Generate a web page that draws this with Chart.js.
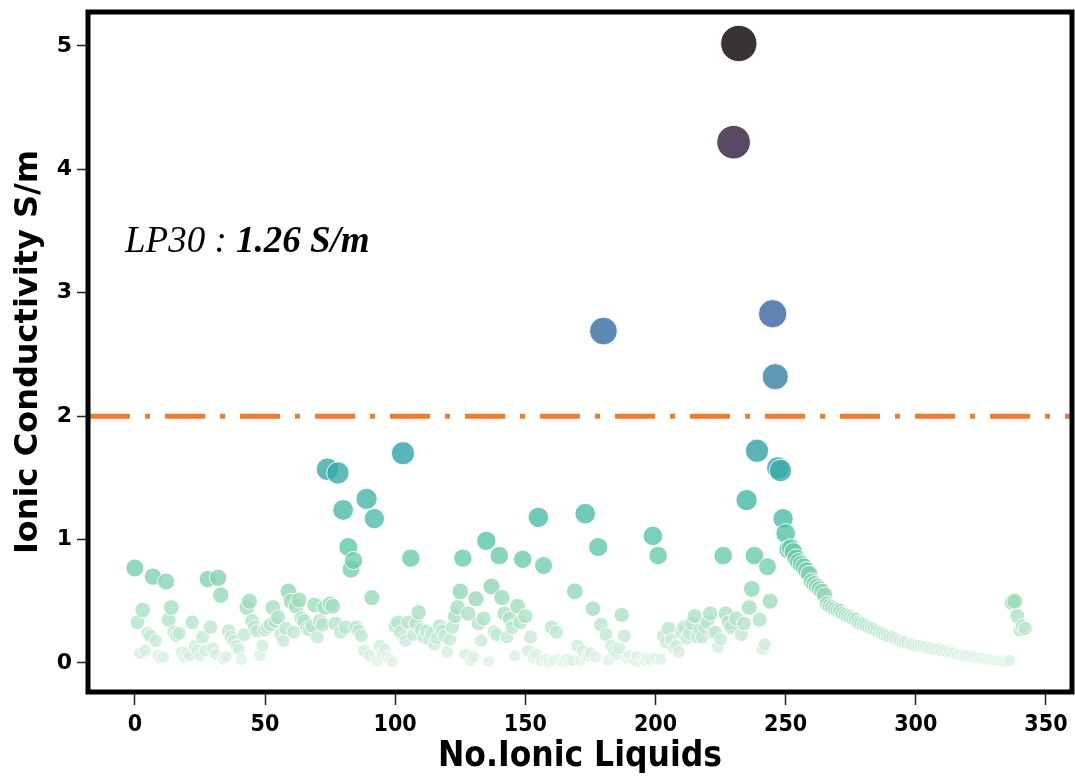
<!DOCTYPE html>
<html>
<head>
<meta charset="utf-8">
<script src="https://cdn.jsdelivr.net/npm/chart.js@4.4.0/dist/chart.umd.min.js"></script>
<style>
  html, body { margin: 0; background: #fff; }
</style>
</head>
<body>
<canvas id="chart" width="1075" height="778"></canvas>
<script>
// Ionic conductivity (S/m) of each ionic liquid, x = index in the list
const conductivity = [
  0.77, 0.33, 0.08, 0.43, 0.10, 0.24, 0.22, 0.70, 0.18, 0.06,
  0.04, 0.05, 0.66, 0.35, 0.45, 0.25, 0.22, 0.24, 0.09, 0.05,
  0.08, 0.06, 0.33, 0.14, 0.10, 0.06, 0.21, 0.10, 0.68, 0.29,
  0.12, 0.07, 0.69, 0.55, 0.03, 0.05, 0.26, 0.21, 0.18, 0.14,
  0.11, 0.03, 0.23, 0.45, 0.50, 0.34, 0.29, 0.26, 0.06, 0.14,
  0.27, 0.29, 0.31, 0.45, 0.34, 0.37, 0.23, 0.18, 0.28, 0.58,
  0.50, 0.25, 0.46, 0.51, 0.36, 0.34, 0.28, 0.27, 0.30, 0.47,
  0.21, 0.34, 0.31, 0.45, 1.57, 0.48, 0.46, 0.32, 1.54, 0.25,
  1.24, 0.29, 0.94, 0.76, 0.83, 0.29, 0.26, 0.22, 0.10, 1.33,
  0.06, 0.53, 1.17, 0.02, 0.14, 0.08, 0.11, 0.05, 0.03, 0.01,
  0.30, 0.33, 0.25, 1.70, 0.18, 0.33, 0.85, 0.23, 0.32, 0.41,
  0.27, 0.21, 0.26, 0.19, 0.24, 0.15, 0.20, 0.30, 0.26, 0.22,
  0.09, 0.19, 0.29, 0.38, 0.45, 0.58, 0.85, 0.07, 0.40, 0.02,
  0.05, 0.52, 0.32, 0.18, 0.36, 0.99, 0.01, 0.62, 0.25, 0.23,
  0.87, 0.53, 0.40, 0.21, 0.36, 0.29, 0.06, 0.46, 0.33, 0.84,
  0.38, 0.10, 0.21, 0.04, 0.07, 1.18, 0.02, 0.79, 0.03, 0.01,
  0.29, 0.02, 0.25, 0.03, 0.01, 0.02, 0.03, 0.01, 0.02, 0.58,
  0.14, 0.02, 0.10, 1.21, 0.06, 0.08, 0.44, 0.05, 0.94, 0.31,
  2.69, 0.23, 0.02, 0.14, 0.10, 0.07, 0.12, 0.39, 0.22, 0.04,
  0.06, 0.03, 0.02, 0.05, 0.01, 0.03, 0.02, 0.04, 0.03, 1.03,
  0.04, 0.87, 0.03, 0.22, 0.17, 0.28, 0.19, 0.12, 0.14, 0.09,
  0.25, 0.29, 0.20, 0.24, 0.32, 0.38, 0.21, 0.27, 0.21, 0.29,
  0.33, 0.40, 0.25, 0.25, 0.13, 0.19, 0.87, 0.40, 0.33, 0.29,
  4.22, 0.36, 5.02, 0.23, 0.32, 1.32, 0.45, 0.60, 0.87, 1.72,
  0.35, 0.11, 0.15, 0.78, 0.50, 2.83, 2.32, 1.58, 1.56, 1.17,
  1.05, 0.92, 0.93, 0.90, 0.85, 0.82, 0.80, 0.78, 0.75, 0.72,
  0.66, 0.64, 0.62, 0.60, 0.58, 0.55, 0.48, 0.46, 0.45, 0.44,
  0.43, 0.42, 0.40, 0.39, 0.38, 0.37, 0.36, 0.35, 0.33, 0.32,
  0.31, 0.30, 0.29, 0.28, 0.27, 0.26, 0.25, 0.24, 0.23, 0.22,
  0.21, 0.21, 0.20, 0.19, 0.18, 0.17, 0.17, 0.16, 0.15, 0.15,
  0.14, 0.14, 0.14, 0.13, 0.13, 0.12, 0.12, 0.11, 0.11, 0.11,
  0.10, 0.10, 0.09, 0.09, 0.08, 0.08, 0.07, 0.07, 0.06, 0.06,
  0.06, 0.05, 0.05, 0.05, 0.04, 0.04, 0.04, 0.03, 0.03, 0.03,
  0.02, 0.02, 0.02, 0.02, 0.01, 0.01, 0.02, 0.49, 0.50, 0.38,
  0.27, 0.30, 0.28
];

const xTicks = [0, 50, 100, 150, 200, 250, 300, 350];
const yTicks = [0, 1, 2, 3, 4, 5];
const threshold = 2;
const lp30Label = 'LP30 : ';
const lp30Value = '1.26 S/m';

// mako_r style colour ramp keyed by conductivity
const colourStops = [
  [0.0, [224, 243, 229]],
  [0.5, [156, 220, 186]],
  [1.0, [87, 197, 167]],
  [1.7, [49, 162, 166]],
  [2.8, [55, 102, 162]],
  [4.2, [49, 29, 64]],
  [5.0, [9, 0, 1]]
];

function colourFor(v) {
  let i = 0;
  while (i < colourStops.length - 2 && v > colourStops[i + 1][0]) i++;
  const [v0, c0] = colourStops[i];
  const [v1, c1] = colourStops[i + 1];
  const t = Math.max(0, Math.min(1, (v - v0) / (v1 - v0)));
  const c = c0.map((a, k) => Math.round(a + (c1[k] - a) * t));
  return `rgba(${c[0]}, ${c[1]}, ${c[2]}, 0.8)`;
}

// marker area grows with the value
function radiusFor(v) {
  return Math.sqrt(140 + 235 * v) / 2;
}

const overlay = {
  id: 'overlay',
  afterDatasetsDraw(chart) {
    const { ctx, chartArea: a, scales } = chart;
    const y = scales.y.getPixelForValue(threshold);
    ctx.save();
    ctx.strokeStyle = '#ef7d2e';
    ctx.lineWidth = 5;
    ctx.setLineDash([40, 15, 5, 15]);
    ctx.beginPath();
    ctx.moveTo(a.left + 2, y);
    ctx.lineTo(a.right, y);
    ctx.stroke();
    ctx.setLineDash([]);

    ctx.strokeStyle = '#000';
    ctx.lineWidth = 5;
    ctx.strokeRect(a.left, a.top, a.right - a.left, a.bottom - a.top);

    ctx.fillStyle = '#000';
    ctx.textBaseline = 'alphabetic';
    ctx.font = 'italic 37px "Liberation Serif", "Times New Roman", serif';
    ctx.fillText(lp30Label, a.left + 37, 252);
    const w = ctx.measureText(lp30Label).width;
    ctx.font = 'italic bold 37px "Liberation Serif", "Times New Roman", serif';
    ctx.fillText(lp30Value, a.left + 37 + w, 252);
    ctx.restore();
  }
};

Chart.defaults.font.family = '"DejaVu Sans", sans-serif';
Chart.defaults.color = '#000';

new Chart(document.getElementById('chart'), {
  type: 'scatter',
  data: {
    datasets: [{
      data: conductivity.map((v, i) => ({ x: i, y: v })),
      backgroundColor: ctx => colourFor(ctx.raw ? ctx.raw.y : 0),
      borderColor: 'rgba(255, 255, 255, 0.9)',
      borderWidth: 1,
      pointRadius: ctx => radiusFor(ctx.raw ? ctx.raw.y : 0),
      pointHoverRadius: ctx => radiusFor(ctx.raw ? ctx.raw.y : 0)
    }]
  },
  options: {
    responsive: false,
    animation: false,
    events: [],
    layout: { autoPadding: false, padding: { top: 12, right: 3, left: 0, bottom: 0 } },
    plugins: { legend: { display: false }, tooltip: { enabled: false } },
    scales: {
      x: {
        type: 'linear',
        min: -18,
        max: 360,
        afterBuildTicks: s => { s.ticks = xTicks.map(v => ({ value: v })); },
        afterFit: s => { s.height = 86; s.paddingLeft = 0; s.paddingRight = 0; },
        border: { display: false },
        grid: { drawOnChartArea: false, drawTicks: true, tickLength: 13, tickColor: '#222', tickWidth: 1.5 },
        ticks: {
          maxRotation: 0,
          padding: 6,
          font: { family: '"DejaVu Sans Condensed", "DejaVu Sans", sans-serif', weight: 'bold', size: 23 }
        },
        title: {
          display: true,
          text: 'No.Ionic Liquids',
          padding: { top: 0, bottom: 0 },
          font: { family: '"DejaVu Sans Condensed", "DejaVu Sans", sans-serif', weight: 'bold', size: 35 }
        }
      },
      y: {
        type: 'linear',
        min: -0.235,
        max: 5.275,
        afterBuildTicks: s => { s.ticks = yTicks.map(v => ({ value: v })); },
        afterFit: s => { s.width = 88; s.paddingTop = 0; s.paddingBottom = 0; },
        border: { display: false },
        grid: { drawOnChartArea: false, drawTicks: true, tickLength: 11, tickColor: '#222', tickWidth: 1.5 },
        ticks: {
          padding: 5,
          font: { weight: 'bold', size: 22 }
        },
        title: {
          display: true,
          text: 'Ionic Conductivity S/m',
          padding: { top: 9, bottom: 4 },
          font: { weight: 'bold', size: 32 }
        }
      }
    }
  },
  plugins: [overlay]
});
</script>
</body>
</html>
